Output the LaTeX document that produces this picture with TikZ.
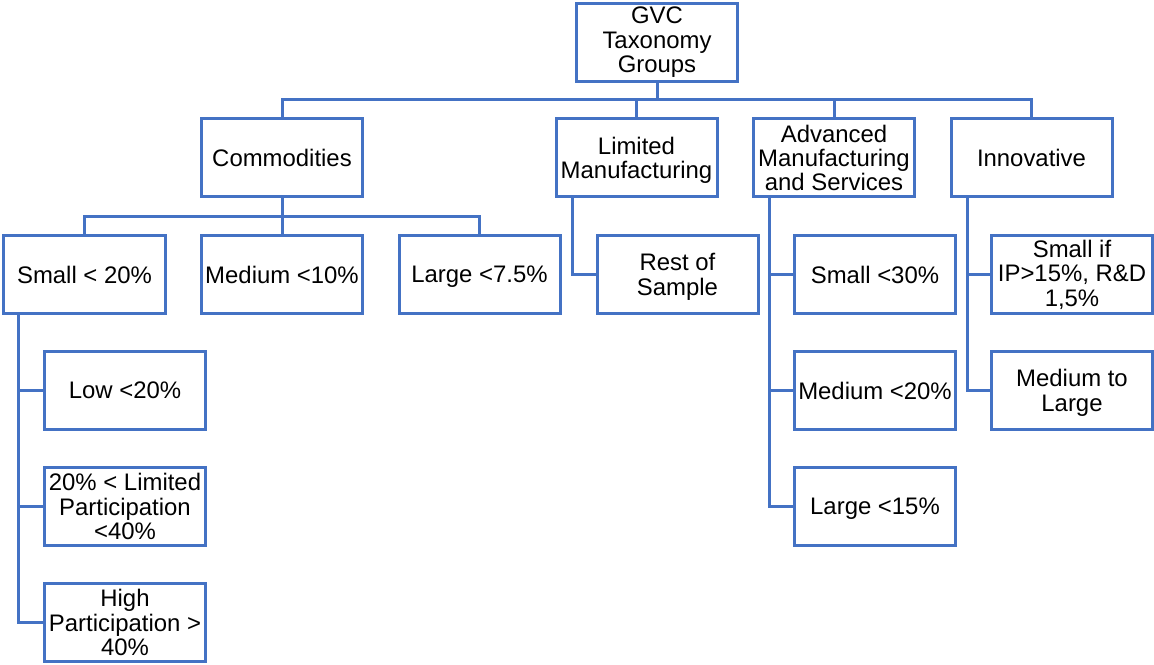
\documentclass[tikz,border=0pt]{standalone}
\usepackage{fontspec}
\setmainfont{Liberation Sans}
\definecolor{lineblue}{HTML}{4472C4}
\begin{document}
\begin{tikzpicture}[x=1bp,y=1bp,
  box/.style={draw=lineblue, line width=3bp, fill=white, align=center,
    minimum width=161bp, minimum height=78bp, inner sep=1bp,
    font=\fontsize{24}{24.5}\selectfont},
  conn/.style={draw=lineblue, line width=3bp}]
\useasboundingbox (0,0) rectangle (1154,665);
% level 0
\node[box] (root) at (657,622.5) {GVC\\Taxonomy\\Groups};
% level 1
\node[box] (comm) at (282,507) {Commodities};
\node[box] (lim) at (636.5,507) {Limited\\\raisebox{0pt}[\height][0pt]{Manufacturing}};
\node[box] (adv) at (834,507) {Advanced\\Manufacturing\\and Services};
\node[box] (inn) at (1031.5,507) {Innovative};
% commodities children
\node[box] (small) at (84.5,390.5) {Small {<} 20\%};
\node[box] (medium) at (282,390.5) {Medium {<}10\%};
\node[box] (large) at (479.5,390.5) {\raisebox{0pt}[\height][0pt]{Large {<}7.5\%}};
% limited child
\node[box] (rest) at (677.5,390.5) {Rest of\\\raisebox{0pt}[\height][0pt]{Sample}};
% advanced children
\node[box] (asmall) at (875,390.5) {Small {<}30\%};
\node[box] (amed) at (875,274.5) {Medium {<}20\%};
\node[box] (alarge) at (875,158.5) {\raisebox{0pt}[\height][0pt]{Large {<}15\%}};
% innovative children
\node[box] (ismall) at (1072,390.5) {Small if\\IP{>}15\%, R\&D\\1,5\%};
\node[box] (imed) at (1072,274.5) {Medium to\\\raisebox{0pt}[\height][0pt]{Large}};
% small children
\node[box] (low) at (125,274.5) {Low {<}20\%};
\node[box] (limp) at (125,158.5) {20\% {<} Limited\\Participation\\{<}40\%};
\node[box] (high) at (125,42.5) {High\\Participation {>}\\40\%};
% buses
\coordinate (bus1) at (0,565);
\coordinate (bus2) at (0,448);
\draw[conn] (root.south) -- (root.south |- bus1);
\draw[conn] (comm.north) |- (inn.north |- bus1) -- (inn.north);
\draw[conn] (lim.north) -- (lim.north |- bus1);
\draw[conn] (adv.north) -- (adv.north |- bus1);
\draw[conn] (small.north) |- (large.north |- bus2) -- (large.north);
\draw[conn] (comm.south) -- (medium.north);
\draw[conn] ([xshift=-64.5bp]lim.south) |- (rest.west);
\draw[conn] ([xshift=-65bp]adv.south) |- (alarge.west);
\draw[conn] ([xshift=-65bp]adv.south |- asmall.west) -- (asmall.west);
\draw[conn] ([xshift=-65bp]adv.south |- amed.west) -- (amed.west);
\draw[conn] ([xshift=-64.5bp]inn.south) |- (imed.west);
\draw[conn] ([xshift=-64.5bp]inn.south |- ismall.west) -- (ismall.west);
\draw[conn] ([xshift=-65.5bp]small.south) |- (high.west);
\draw[conn] ([xshift=-65.5bp]small.south |- low.west) -- (low.west);
\draw[conn] ([xshift=-65.5bp]small.south |- limp.west) -- (limp.west);
\end{tikzpicture}
\end{document}
